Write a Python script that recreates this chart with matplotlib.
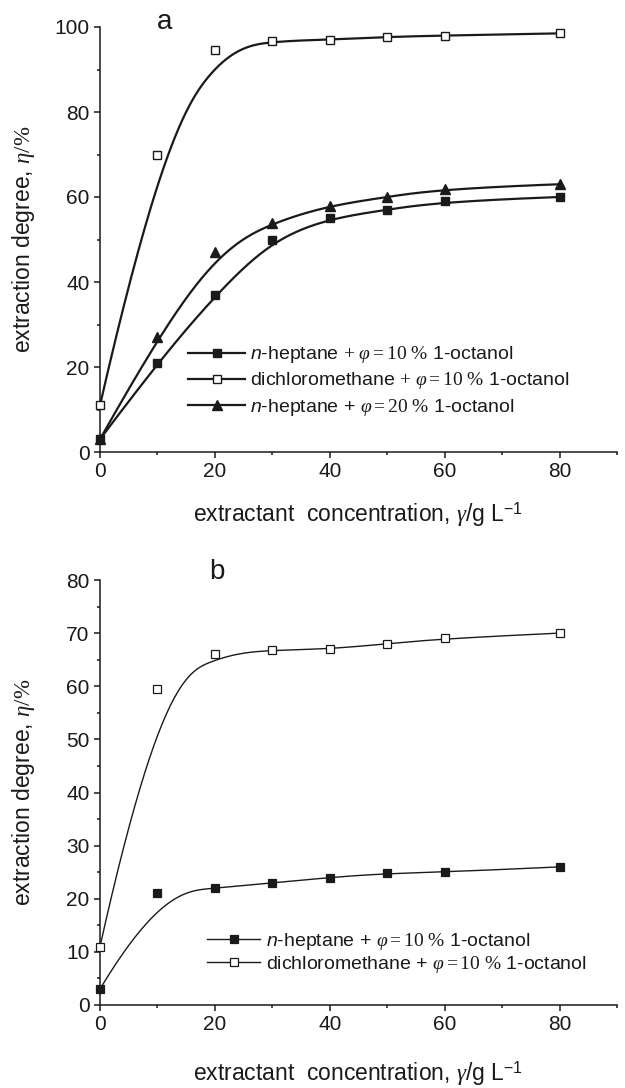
import numpy as np
import matplotlib
matplotlib.use("Agg")
import matplotlib.pyplot as plt
from matplotlib.ticker import MultipleLocator

plt.rcParams['font.family'] = ['Liberation Sans', 'DejaVu Sans']
plt.rcParams['mathtext.fontset'] = 'custom'
plt.rcParams['mathtext.rm'] = 'Liberation Serif'
plt.rcParams['mathtext.it'] = 'Liberation Serif:italic'
plt.rcParams['mathtext.sf'] = 'Liberation Sans'
plt.rcParams['mathtext.bf'] = 'Liberation Sans:italic'

# ---- data ----
conc = [0, 10, 20, 30, 40, 50, 60, 80]

a_hep10 = [3, 21, 37, 50, 55, 57, 59, 60]
a_dcm10 = [11, 70, 94.5, 96.7, 97, 97.7, 98, 98.5]
a_hep20 = [3, 27, 47, 54, 58, 60, 62, 63]

b_hep10 = [3, 21, 22, 23, 24, 24.8, 25, 26]
b_dcm10 = [11, 59.5, 66, 66.8, 67, 68, 69, 70]

lab_hep10 = r"$\mathbf{n}$-heptane $+\ \varphi = 10\ \%$ 1-octanol"
lab_dcm10 = r"dichloromethane $+\ \varphi = 10\ \%$ 1-octanol"
lab_hep20 = r"$\mathbf{n}$-heptane + $\varphi = 20\ \%$ 1-octanol"
lab_b_hep10 = r"$\mathbf{n}$-heptane + $\varphi = 10\ \%$ 1-octanol"
lab_b_dcm10 = r"dichloromethane + $\varphi = 10\ \%$ 1-octanol"

xlabel = r"extractant  concentration, $\gamma$/g L$^{\mathsf{-1}}$"
ylabel = r"extraction degree, $\eta/\%$"


def bspline(px, py, k=3, num=400):
    px = np.asarray(px, float)
    py = np.asarray(py, float)
    n = len(px)
    t = np.concatenate([np.zeros(k), np.linspace(0, 1, n - k + 1), np.ones(k)])
    u = np.linspace(0, 1, num)
    u[-1] -= 1e-9
    N = np.zeros((num, len(t) - 1))
    for i in range(len(t) - 1):
        N[:, i] = ((t[i] <= u) & (u < t[i + 1])).astype(float)
    for d in range(1, k + 1):
        Nn = np.zeros((num, len(t) - 1 - d))
        for i in range(len(t) - 1 - d):
            a = 0.0
            b = 0.0
            den1 = t[i + d] - t[i]
            den2 = t[i + d + 1] - t[i + 1]
            if den1 > 0:
                a = (u - t[i]) / den1 * N[:, i]
            if den2 > 0:
                b = (t[i + d + 1] - u) / den2 * N[:, i + 1]
            Nn[:, i] = a + b
        N = Nn
    return N @ px, N @ py


W, H = 625, 1088
fig = plt.figure(figsize=(W / 100, H / 100), dpi=100)

def fx(p):
    return p / W

def fy(p):
    return 1 - p / H

axA = fig.add_axes([fx(100), fy(452), fx(617) - fx(100), fy(27) - fy(452)])
axB = fig.add_axes([fx(100), fy(1005), fx(617) - fx(100), fy(580) - fy(1005)])

col = '#1a1a1a'

def style(ax, ymaj, ymin, ymax):
    for s in ['top', 'right']:
        ax.spines[s].set_visible(False)
    for s in ['left', 'bottom']:
        ax.spines[s].set_linewidth(1.1)
        ax.spines[s].set_color(col)
    ax.set_xlim(0, 90)
    ax.set_ylim(0, ymax)
    ax.xaxis.set_major_locator(MultipleLocator(20))
    ax.xaxis.set_minor_locator(MultipleLocator(10))
    ax.yaxis.set_major_locator(MultipleLocator(ymaj))
    ax.yaxis.set_minor_locator(MultipleLocator(ymin))
    ax.tick_params(which='major', direction='out', length=4.5, width=1.1,
                   labelsize=15, colors=col, pad=3)
    ax.tick_params(which='minor', direction='out', length=2.5, width=1.1, colors=col)
    ax.set_xticks([0, 20, 40, 60, 80])
    ax.set_xlabel(xlabel, fontsize=16.5, color=col)
    ax.set_ylabel(ylabel, fontsize=16.5, color=col)

style(axA, 20, 10, 100)
style(axB, 10, 5, 80)

# ---- panel a ----
lwA = 1.6
series_a = [
    (a_hep10, 's', col, lab_hep10, 6),
    (a_dcm10, 's', 'white', lab_dcm10, 6),
    (a_hep20, '^', col, lab_hep20, 7),
]
handles = []
for ys, m, fc, lab, ms in series_a:
    cx, cy = bspline(conc, ys)
    axA.plot(cx, cy, color=col, lw=lwA, zorder=2, clip_on=False)
    axA.plot(conc, ys, linestyle='none', marker=m, ms=ms, mfc=fc, mec=col,
             mew=1.0, zorder=3, clip_on=False)
    h, = axA.plot([], [], color=col, lw=lwA, marker=m, ms=ms, mfc=fc, mec=col, mew=1.0)
    handles.append((h, lab))

legA = axA.legend([h for h, _ in handles], [l for _, l in handles],
                  loc='center left', bbox_to_anchor=(fx(188), fy(381)),
                  bbox_transform=fig.transFigure, frameon=False, fontsize=14,
                  handlelength=2.95, handletextpad=0.25, labelspacing=0.26,
                  borderpad=0, borderaxespad=0)
for t in legA.get_texts():
    t.set_color(col)

# ---- panel b ----
lwB = 1.0
series_b = [
    (b_hep10, 's', col, lab_b_hep10, 6),
    (b_dcm10, 's', 'white', lab_b_dcm10, 6),
]
handles = []
for ys, m, fc, lab, ms in series_b:
    cx, cy = bspline(conc, ys)
    axB.plot(cx, cy, color=col, lw=lwB, zorder=2, clip_on=False)
    axB.plot(conc, ys, linestyle='none', marker=m, ms=ms, mfc=fc, mec=col,
             mew=0.9, zorder=3, clip_on=False)
    h, = axB.plot([], [], color=col, lw=lwB, marker=m, ms=5.5, mfc=fc, mec=col, mew=0.9)
    handles.append((h, lab))

legB = axB.legend([h for h, _ in handles], [l for _, l in handles],
                  loc='center left', bbox_to_anchor=(fx(207), fy(953)),
                  bbox_transform=fig.transFigure, frameon=False, fontsize=14,
                  handlelength=2.75, handletextpad=0.3, labelspacing=0.12,
                  borderpad=0, borderaxespad=0)
for t in legB.get_texts():
    t.set_color(col)

fig.text(fx(165), fy(22), 'a', fontsize=20, ha='center', va='center', color=col)
fig.text(fx(217), fy(572), 'b', fontsize=20, ha='center', va='center', color=col)

axA.xaxis.set_label_coords(0.5, -0.113)
axB.xaxis.set_label_coords(0.5, -0.127)
axA.yaxis.set_label_coords(-0.122, 0.5)
axB.yaxis.set_label_coords(-0.122, 0.5)

fig.savefig('out.png', dpi=100)
